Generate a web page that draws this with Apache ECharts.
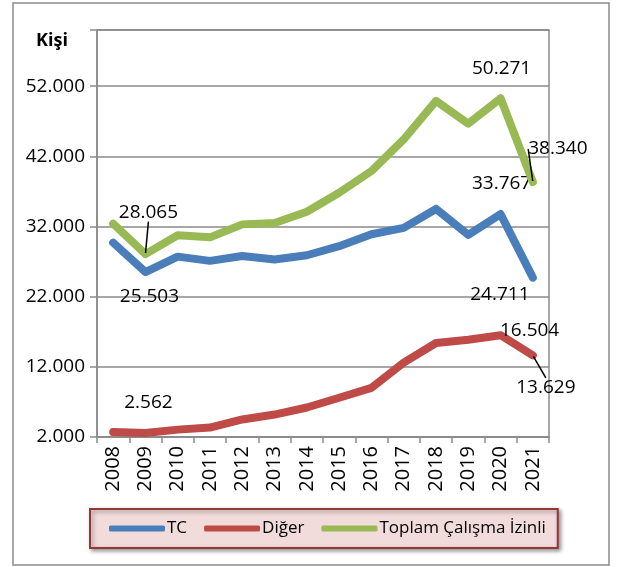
<!DOCTYPE html>
<html>
<head>
<meta charset="utf-8">
<script src="https://cdn.jsdelivr.net/npm/echarts@6/dist/echarts.min.js"></script>
<style>
    html, body { margin: 0; padding: 0; background: #fff; }
    #chart { width: 618px; height: 567px; }
</style>
</head>
<body>
<div id="chart"></div>
<script>
// veriler
var years = ['2008', '2009', '2010', '2011', '2012', '2013', '2014', '2015', '2016', '2017', '2018', '2019', '2020', '2021'];
var tcValues = [29700, 25503, 27700, 27100, 27800, 27300, 27900, 29200, 30900, 31800, 34500, 30800, 33767, 24711];
var digerValues = [2700, 2562, 3050, 3350, 4500, 5200, 6200, 7600, 9000, 12600, 15400, 15850, 16504, 13629];
var toplamValues = [32400, 28065, 30750, 30450, 32300, 32500, 34100, 36800, 39900, 44400, 49900, 46650, 50271, 38340];
var seriesNames = ['TC', 'Diğer', 'Toplam Çalışma İzinli'];
var seriesColors = ['#4a7ebb', '#be4b48', '#98b954'];

// etiketli noktalar: seri index -> {dataIndex: [dx, dy, leader]}
var labelOffsets = {
    0: { 1: [4, 25, false], 12: [1, -30, false], 13: [-33, 17, false] },
    1: { 1: [3, -30, false], 12: [29, -5, false], 13: [13, 32, true] },
    2: { 1: [3, -42, true], 12: [1, -30, false], 13: [25, -33, true] }
};

var fontName = 'Open Sans';

//binlik ayırıcı nokta
function fmt(v) {
    return String(Math.round(v)).replace(/\B(?=(\d{3})+(?!\d))/g, '.');
}

function buildData(values, sIdx) {
    return values.map(function (v, i) {
        var off = labelOffsets[sIdx][i];
        if (!off) return v;
        return {
            value: v,
            label: { show: true },
            labelLine: { show: off[2], lineStyle: { color: '#000', width: 1.5 } }
        };
    });
}

function makeSeries(values, sIdx) {
    return {
        name: seriesNames[sIdx],
        type: 'line',
        data: buildData(values, sIdx),
        symbol: 'circle',
        symbolSize: 2,
        showSymbol: true,
        itemStyle: { color: seriesColors[sIdx] },
        lineStyle: { width: 8, color: seriesColors[sIdx], cap: 'round', join: 'round' },
        label: {
            show: false,
            position: 'inside',
            color: '#000',
            fontFamily: fontName,
            fontSize: 19,
            formatter: function (p) { return fmt(p.value); }
        },
        labelLine: { show: false },
        emphasis: { disabled: true },
        z: 3 + sIdx
    };
}

var chart = echarts.init(document.getElementById('chart'));
var option = {
    animation: false,
    backgroundColor: '#fff',
    textStyle: { fontFamily: fontName },
    graphic: [{
        type: 'rect',
        shape: { x: 13, y: 3, width: 596, height: 562 },
        style: { fill: 'none', stroke: '#8a8a8a', lineWidth: 1.5 },
        silent: true,
        z: -1
    }],
    grid: {
        left: 97, right: 69, top: 30, bottom: 130,
        show: true,
        borderColor: '#8a8a8a',
        borderWidth: 1.5
    },
    legend: {
        left: 90,
        top: 509,
        padding: [11, 12, 11, 19],
        itemGap: 17,
        itemWidth: 56,
        itemHeight: 6,
        icon: 'roundRect',
        backgroundColor: '#f2dcdb',
        borderColor: '#953735',
        borderWidth: 2,
        shadowBlur: 4,
        shadowOffsetX: 2,
        shadowOffsetY: 2,
        shadowColor: 'rgba(0,0,0,0.4)',
        textStyle: { fontFamily: fontName, fontSize: 17, color: '#000', padding: [0, 0, 0, -3] },
        data: seriesNames
    },
    xAxis: {
        type: 'category',
        data: years,
        boundaryGap: true,
        axisLine: { lineStyle: { color: '#8a8a8a', width: 1.5 } },
        axisTick: { show: true, length: 6, lineStyle: { color: '#8a8a8a', width: 1.5 } },
        axisLabel: { rotate: 90, margin: 9, color: '#000', fontFamily: fontName, fontSize: 20 }
    },
    yAxis: {
        type: 'value',
        min: 2000,
        max: 60000,
        interval: 10000,
        name: 'Kişi',
        nameLocation: 'end',
        nameGap: -2,
        nameTextStyle: {
            fontFamily: fontName, fontSize: 18, fontWeight: 'bold', color: '#000',
            align: 'right', verticalAlign: 'top', padding: [0, 29, 0, 0]
        },
        axisLine: { show: true, lineStyle: { color: '#8a8a8a', width: 1.5 } },
        axisTick: { show: true, length: 7, lineStyle: { color: '#8a8a8a', width: 1.5 } },
        splitLine: { lineStyle: { color: '#8a8a8a', width: 1.5 } },
        axisLabel: {
            margin: 12,
            color: '#000',
            fontFamily: fontName,
            fontSize: 19,
            formatter: function (v) { return v >= 60000 ? '' : fmt(v); }
        }
    },
    labelLayout: function (params) {
        var s = labelOffsets[params.seriesIndex];
        var off = s && s[params.dataIndex];
        if (!off) return {};
        return { dx: off[0], dy: off[1] };
    },
    series: [
        makeSeries(tcValues, 0),
        makeSeries(digerValues, 1),
        makeSeries(toplamValues, 2)
    ]
};
chart.setOption(option);
</script>
</body>
</html>
